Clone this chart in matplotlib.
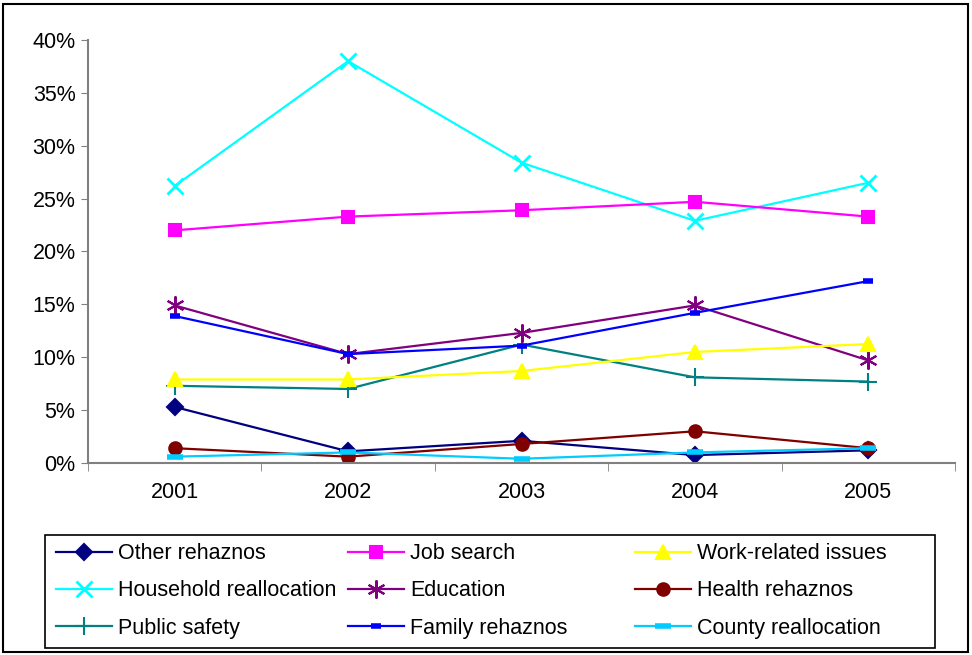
import matplotlib.pyplot as plt
from matplotlib.patches import Rectangle
from matplotlib.ticker import PercentFormatter, FixedLocator

plt.rcParams["font.family"] = ["Liberation Sans", "DejaVu Sans"]

years = ["2001", "2002", "2003", "2004", "2005"]

other = [5.3, 1.1, 2.1, 0.75, 1.2]
job_search = [22.0, 23.3, 23.9, 24.7, 23.3]
work_related = [7.9, 7.9, 8.7, 10.5, 11.25]
household = [26.2, 38.0, 28.4, 22.9, 26.5]
education = [14.9, 10.3, 12.3, 14.9, 9.7]
health = [1.4, 0.6, 1.8, 3.0, 1.4]
public_safety = [7.3, 7.0, 11.2, 8.1, 7.7]
family = [13.9, 10.3, 11.1, 14.2, 17.2]
county = [0.6, 1.0, 0.4, 1.0, 1.4]

fig = plt.figure(figsize=(9.72, 6.55), dpi=100)
ax = fig.add_axes([88 / 972, 192 / 655, 867 / 972, 423 / 655])

x = range(len(years))

# one list per legend column
columns = [
    [("Other rehaznos", other, "#000080", "D", 8, 1.5),
     ("Household reallocation", household, "#00FFFF", "x", 11, 2),
     ("Public safety", public_safety, "#008080", "+", 13, 1.5)],
    [("Job search", job_search, "#FF00FF", "s", 8, 1.5),
     ("Education", education, "#800080", (6, 2, 0), 13, 1.5),
     ("Family rehaznos", family, "#0000FF", "_", 7, 4)],
    [("Work-related issues", work_related, "#FFFF00", "^", 10, 1.5),
     ("Health rehaznos", health, "#800000", "o", 9, 1.5),
     ("County reallocation", county, "#00CCFF", "_", 11, 4)],
]

col_handles = []
for col in columns:
    hs = []
    for name, vals, color, marker, ms, mew in col:
        h, = ax.plot(x, vals, color=color, marker=marker, markersize=ms,
                     markeredgewidth=mew, markerfacecolor=color,
                     markeredgecolor=color, linewidth=1.6, label=name)
        hs.append(h)
    col_handles.append(hs)

ax.set_xlim(-0.5, 4.5)
ax.set_ylim(0, 40)
ax.set_yticks(range(0, 41, 5))
ax.yaxis.set_major_formatter(PercentFormatter(decimals=0))
ax.set_xticks(list(x))
ax.set_xticklabels(years)
ax.xaxis.set_minor_locator(FixedLocator([-0.5, 0.5, 1.5, 2.5, 3.5, 4.5]))
ax.tick_params(axis="x", which="major", length=0, pad=14, labelsize=15.5)
ax.tick_params(axis="x", which="minor", length=6, color="#808080", direction="out")
ax.tick_params(axis="y", length=5, color="#808080", direction="out", labelsize=15.5, pad=4)

for side in ["top", "right"]:
    ax.spines[side].set_visible(False)
for side in ["left", "bottom"]:
    ax.spines[side].set_color("#808080")
    ax.spines[side].set_linewidth(1.5)

# legend box drawn by hand, three borderless legends inside it
fig.patches.append(Rectangle((45 / 972, 7 / 655), 890 / 972, 113 / 655,
                             transform=fig.transFigure, fill=False,
                             edgecolor="black", linewidth=1.2))
col_x = [56, 348, 635]
for cx, hs in zip(col_x, col_handles):
    leg = fig.legend(handles=hs, loc="center left",
                     bbox_to_anchor=(cx / 972, 64 / 655),
                     fontsize=15.5, frameon=False, handlelength=2.6,
                     handletextpad=0.3, borderpad=0, borderaxespad=0,
                     labelspacing=0.75)

fig.patches.append(Rectangle((3 / 972, 3 / 655), 965 / 972, 648 / 655,
                             transform=fig.transFigure, fill=False,
                             edgecolor="black", linewidth=1.5))

fig.savefig("out.png", dpi=100)
